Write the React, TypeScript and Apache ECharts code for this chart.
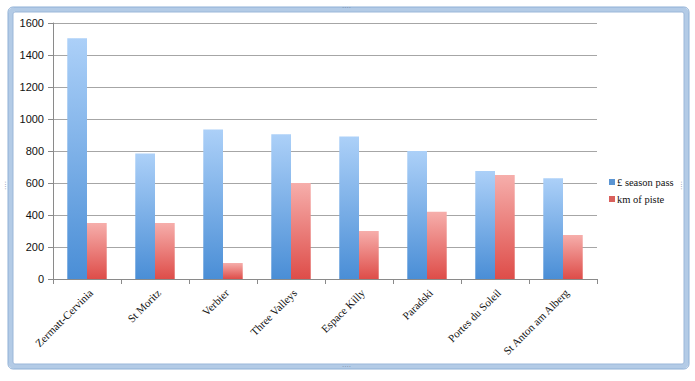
import React, { useEffect, useRef } from "react";
import * as echarts from "echarts";

const resorts = [
  "Zermatt-Cervinia",
  "St Moritz",
  "Verbier",
  "Three Valleys",
  "Espace Killy",
  "Paradski",
  "Portes du Soleil",
  "St Anton am Alberg",
];
const seasonPass = [1505, 785, 935, 905, 890, 800, 675, 630];
const kmPiste = [350, 350, 100, 600, 300, 420, 650, 275];
const seriesNames = ["£ season pass", "km of piste"];

const blueGrad = new echarts.graphic.LinearGradient(0, 0, 0, 1, [
  { offset: 0, color: "#acd0f8" },
  { offset: 1, color: "#4a8ed6" },
]);
const redGrad = new echarts.graphic.LinearGradient(0, 0, 0, 1, [
  { offset: 0, color: "#f6aeab" },
  { offset: 1, color: "#de4d49" },
]);

export default function App() {
  const ref = useRef<HTMLDivElement>(null);
  useEffect(() => {
    if (!ref.current) return;
    const chart = echarts.init(ref.current, null, { renderer: "svg" });
    chart.setOption({
      animation: false,
      backgroundColor: "#ffffff",
      grid: { left: 53, right: 98, top: 23, bottom: 102, containLabel: false },
      legend: {
        orient: "vertical",
        left: 609,
        top: 176,
        padding: 0,
        itemWidth: 6,
        itemHeight: 6,
        itemGap: 5,
        icon: "rect",
        textStyle: {
          fontFamily: "Liberation Serif",
          fontSize: 10.5,
          lineHeight: 12,
          color: "#111",
          padding: [0, 0, 0, -3],
        },
        data: [
          { name: seriesNames[0], itemStyle: { color: "#5b95d3" } },
          { name: seriesNames[1], itemStyle: { color: "#d9605c" } },
        ],
      },
      xAxis: {
        type: "category",
        data: resorts,
        axisLine: { lineStyle: { color: "#8a8a8a" } },
        axisTick: { show: true, length: 5, lineStyle: { color: "#8a8a8a" } },
        axisLabel: {
          rotate: 45,
          interval: 0,
          margin: 8,
          align: "right",
          verticalAlign: "top",
          fontFamily: "Liberation Serif",
          fontSize: 11,
          color: "#111",
        },
      },
      yAxis: {
        type: "value",
        min: 0,
        max: 1600,
        interval: 200,
        axisLine: { show: true, lineStyle: { color: "#8a8a8a" } },
        axisTick: { show: true, length: 5, lineStyle: { color: "#8a8a8a" } },
        axisLabel: {
          fontFamily: "Liberation Sans",
          fontSize: 11,
          color: "#111",
          margin: 9,
          formatter: (v: number) => String(v),
        },
        splitLine: { lineStyle: { color: "#a6a6a6" } },
      },
      series: [
        {
          name: seriesNames[0],
          type: "bar",
          data: seasonPass,
          barGap: "0%",
          barCategoryGap: "42%",
          itemStyle: { color: blueGrad },
        },
        {
          name: seriesNames[1],
          type: "bar",
          data: kmPiste,
          itemStyle: { color: redGrad },
        },
      ],
      graphic: [
        {
          type: "rect",
          shape: { x: 10.5, y: 9.5, width: 676, height: 357, r: 4 },
          style: { fill: "none", stroke: "#b3cbe6", lineWidth: 5 },
          silent: true,
        },
        {
          type: "rect",
          shape: { x: 8, y: 7, width: 681, height: 362, r: 5 },
          style: { fill: "none", stroke: "#8fb0d6", lineWidth: 1 },
          silent: true,
        },
        {
          type: "rect",
          shape: { x: 13, y: 12, width: 671, height: 352, r: 2 },
          style: { fill: "none", stroke: "#9bb7d9", lineWidth: 1 },
          silent: true,
        },
        {
          type: "text",
          x: 342,
          y: 4,
          style: { text: "····", fontSize: 7, fill: "#7a8ea8", fontFamily: "DejaVu Sans" },
          silent: true,
        },
        {
          type: "text",
          x: 342,
          y: 363,
          style: { text: "····", fontSize: 7, fill: "#7a8ea8", fontFamily: "DejaVu Sans" },
          silent: true,
        },
        {
          type: "text",
          x: 8,
          y: 181,
          rotation: -Math.PI / 2,
          style: { text: "····", fontSize: 7, fill: "#7a8ea8", fontFamily: "DejaVu Sans" },
          silent: true,
        },
        {
          type: "text",
          x: 684,
          y: 181,
          rotation: -Math.PI / 2,
          style: { text: "····", fontSize: 7, fill: "#7a8ea8", fontFamily: "DejaVu Sans" },
          silent: true,
        },
      ],
    });
    return () => chart.dispose();
  }, []);
  return (
    <div
      ref={ref}
      style={{ position: "fixed", left: 0, top: 0, width: 695, height: 381 }}
    />
  );
}
